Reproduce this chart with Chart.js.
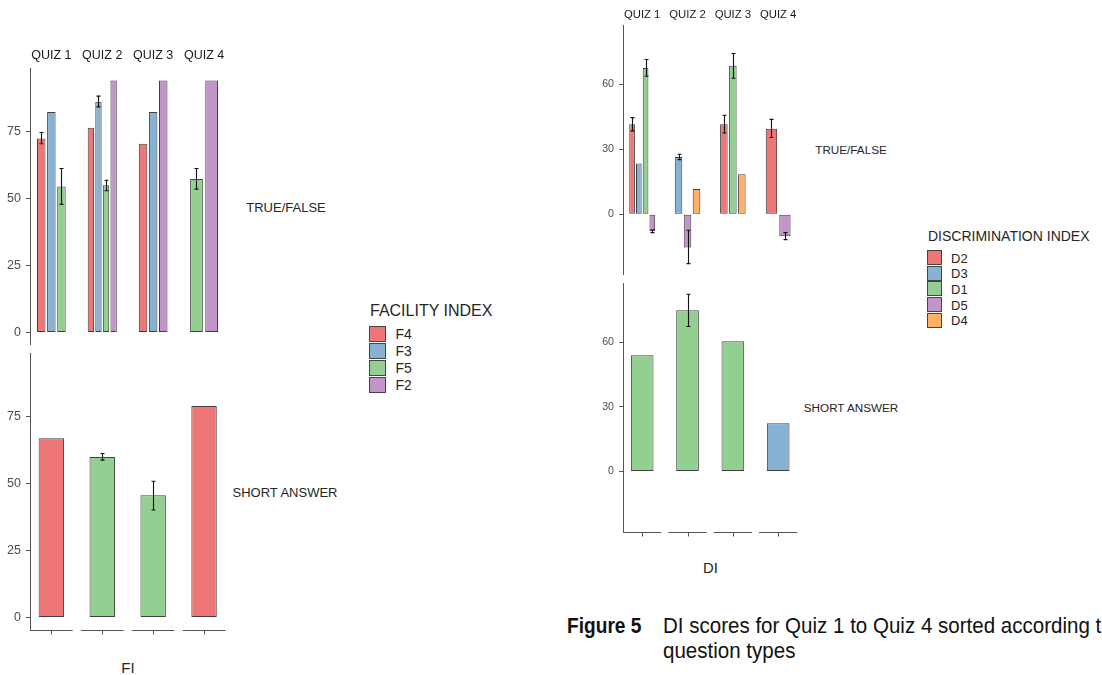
<!DOCTYPE html>
<html>
<head>
<meta charset="utf-8">
<script src="https://cdn.jsdelivr.net/npm/chart.js@4/dist/chart.umd.min.js"></script>
<style>
  html, body { margin: 0; padding: 0; background: #fff; }
  body { width: 1102px; height: 675px; overflow: hidden; position: relative;
         font-family: 'Liberation Sans', Arial, sans-serif; }
  canvas { position: absolute; }
  .txt { position: absolute; white-space: nowrap; line-height: 1; color: #262626; }
  .key { position: absolute; box-sizing: border-box; border: 1px solid #454545; }
</style>
</head>
<body>
<script>
const FONT = "'Liberation Sans', Arial, sans-serif";

// ---- shared categories ----
const quizzes = ['QUIZ 1', 'QUIZ 2', 'QUIZ 3', 'QUIZ 4'];
const quizPos = [1, 2, 3, 4];

// ---- facility index (FI) ----
const fiSeries = ['F4', 'F3', 'F5', 'F2'];
const fiColors = ['#EF7677', '#87B2D4', '#94CF92', '#C195C8'];
const fiTicks = [0, 25, 50, 75];

// TRUE/FALSE questions, one row per series, one column per quiz
const fiTrueFalse = [
  [72.4, 76.4, 70.4, null],
  [82.3, 86.1, 82.3, null],
  [54.5, 54.9, null, 57.3],
  [null, 94.0, 94.0, 94.0]
];
const fiTrueFalseLow = [
  [70.4, null, null, null],
  [null, 84.2, null, null],
  [47.8, 52.9, null, 53.5],
  [null, null, null, null]
];
const fiTrueFalseHigh = [
  [74.6, null, null, null],
  [null, 88.2, null, null],
  [61.2, 56.8, null, 61.2],
  [null, null, null, null]
];

// SHORT ANSWER questions
const fiShortAnswer = [
  [66.9, null, null, 78.9],
  [null, null, null, null],
  [null, 59.9, 45.6, null],
  [null, null, null, null]
];
const fiShortAnswerLow = [
  [null, null, null, null],
  [null, null, null, null],
  [null, 58.7, 40.1, null],
  [null, null, null, null]
];
const fiShortAnswerHigh = [
  [null, null, null, null],
  [null, null, null, null],
  [null, 61.2, 50.8, null],
  [null, null, null, null]
];

// ---- discrimination index (DI) ----
const diSeries = ['D2', 'D3', 'D1', 'D5', 'D4'];
const diColors = ['#EF7677', '#87B2D4', '#94CF92', '#C195C8', '#FFB266'];
const diTicks = [0, 30, 60];

const diTrueFalse = [
  [41.5, null, 41.5, 39.5],
  [23.4, 26.4, null, null],
  [67.5, null, 68.5, null],
  [-7.8, -15.4, null, -10.2],
  [null, 11.7, 18.5, null]
];
const diTrueFalseLow = [
  [38.5, null, 37.5, 35.4],
  [null, 25.2, null, null],
  [63.7, null, 62.8, null],
  [-8.5, -22.8, null, -11.7],
  [null, null, null, null]
];
const diTrueFalseHigh = [
  [44.6, null, 45.7, 43.8],
  [null, 27.7, null, null],
  [71.4, null, 74.2, null],
  [-7.2, -7.4, null, -8.5],
  [null, null, null, null]
];

const diShortAnswer = [
  [null, null, null, null],
  [null, null, null, 22.3],
  [53.9, 74.7, 60.4, null],
  [null, null, null, null],
  [null, null, null, null]
];
const diShortAnswerLow = [
  [null, null, null, null],
  [null, null, null, null],
  [null, 67.2, null, null],
  [null, null, null, null],
  [null, null, null, null]
];
const diShortAnswerHigh = [
  [null, null, null, null],
  [null, null, null, null],
  [null, 82.1, null, null],
  [null, null, null, null],
  [null, null, null, null]
];

// ---- panel geometry (pixels) ----
const fiFrame = { left: 0, axisW: 30, areaW: 196, unitPx: 50.9, halfPx: 21.35,
  rows: [{ top: 68, h: 277 }, { top: 353, h: 277 }],
  stripPad: 28, stripGap: 12, stripSize: 12.5, tickSize: 12.5 };
const diFrame = { left: 593, axisW: 30, areaW: 175, unitPx: 45.33, halfPx: 19.2,
  rows: [{ top: 25, h: 250 }, { top: 283, h: 249 }],
  stripPad: 25, stripGap: 10.5, stripSize: 11.3, tickSize: 10.6 };

// error bars drawn on top of the bars through the value scale
const errorBars = {
  id: 'errorBars',
  afterDatasetsDraw(chart) {
    const { ctx } = chart;
    const ys = chart.scales.y;
    ctx.save();
    ctx.strokeStyle = '#111';
    ctx.lineWidth = 1.1;
    chart.data.datasets.forEach((ds, i) => {
      const meta = chart.getDatasetMeta(i);
      meta.data.forEach((bar, j) => {
        const lo = ds.errLow[j], hi = ds.errHigh[j];
        if (lo == null || hi == null) return;
        const x = Math.round(bar.x) + 0.5;
        const y1 = ys.getPixelForValue(lo), y2 = ys.getPixelForValue(hi);
        ctx.beginPath();
        ctx.moveTo(x, y1); ctx.lineTo(x, y2);
        ctx.moveTo(x - 2, y1); ctx.lineTo(x + 2, y1);
        ctx.moveTo(x - 2, y2); ctx.lineTo(x + 2, y2);
        ctx.stroke();
      });
    });
    ctx.restore();
  }
};

// quiz strip labels above the top row
const quizStrips = {
  id: 'quizStrips',
  afterDraw(chart, args, opts) {
    if (!opts.show) return;
    const { ctx, chartArea } = chart;
    const xs = chart.scales.x;
    ctx.save();
    ctx.fillStyle = '#1a1a1a';
    ctx.font = opts.size + 'px ' + FONT;
    ctx.textAlign = 'center';
    ctx.textBaseline = 'middle';
    quizzes.forEach((q, i) => ctx.fillText(q, xs.getPixelForValue(quizPos[i]), chartArea.top - opts.gap));
    ctx.restore();
  }
};

// one axis segment with a centre tick under each quiz column of the bottom row
const facetAxis = {
  id: 'facetAxis',
  afterDraw(chart, args, opts) {
    if (!opts.show) return;
    const { ctx, chartArea } = chart;
    const xs = chart.scales.x;
    const yLine = Math.round(chartArea.bottom) + 0.5;
    ctx.save();
    ctx.strokeStyle = '#555';
    ctx.lineWidth = 1;
    quizPos.forEach(v => {
      const a = xs.getPixelForValue(v - opts.half);
      const b = xs.getPixelForValue(v + opts.half);
      const c = Math.round(xs.getPixelForValue(v)) + 0.5;
      ctx.beginPath();
      ctx.moveTo(a, yLine); ctx.lineTo(b, yLine);
      ctx.moveTo(c, yLine); ctx.lineTo(c, yLine + 4);
      ctx.stroke();
    });
    ctx.restore();
  }
};

function valueRange(groups) {
  let lo = 0, hi = 0;
  groups.forEach(g => g.forEach(row => row.forEach(v => {
    if (v == null) return;
    lo = Math.min(lo, v); hi = Math.max(hi, v);
  })));
  const pad = (hi - lo) * 0.05;
  return { min: lo - pad, max: hi + pad };
}

function drawRow(frame, rowIdx, series, colors, ticks, vals, low, high, yr) {
  const isTop = rowIdx === 0;
  const row = frame.rows[rowIdx];
  const padTop = isTop ? frame.stripPad : 0;
  const padBottom = isTop ? 0 : 8;
  const cv = document.createElement('canvas');
  cv.width = frame.axisW + frame.areaW;
  cv.height = row.h + padTop + padBottom;
  cv.style.left = frame.left + 'px';
  cv.style.top = (row.top - padTop) + 'px';
  document.body.appendChild(cv);

  const half = frame.halfPx / frame.unitPx;
  const xMin = 1 - half;
  const xMax = xMin + frame.areaW / frame.unitPx;

  new Chart(cv, {
    type: 'bar',
    data: {
      datasets: series.map((name, s) => ({
        label: name,
        data: quizPos.map((x, q) => ({ x, y: vals[s][q] })),
        errLow: low[s],
        errHigh: high[s],
        backgroundColor: colors[s],
        borderColor: '#404040',
        borderWidth: 1,
        borderSkipped: false,
        inflateAmount: 0,
        categoryPercentage: 0.595,
        barPercentage: 0.84,
        skipNull: true
      }))
    },
    options: {
      responsive: false,
      animation: false,
      events: [],
      layout: { padding: { top: padTop, bottom: padBottom, left: 0, right: 0 } },
      plugins: {
        legend: { display: false },
        tooltip: { enabled: false },
        quizStrips: { show: isTop, size: frame.stripSize, gap: frame.stripGap },
        facetAxis: { show: !isTop, half }
      },
      scales: {
        x: {
          type: 'linear', display: false, offset: false, min: xMin, max: xMax,
          afterBuildTicks: sc => { sc.ticks = quizPos.map(v => ({ value: v })); }
        },
        y: {
          min: yr.min, max: yr.max,
          afterBuildTicks: sc => { sc.ticks = ticks.map(v => ({ value: v })); },
          afterFit: sc => { sc.width = frame.axisW; sc.paddingTop = 0; sc.paddingBottom = 0; },
          border: { display: true, color: '#555', width: 1 },
          grid: { display: true, drawOnChartArea: false, drawTicks: true, tickLength: 4, color: '#555', lineWidth: 1 },
          ticks: { padding: 5, color: '#4d4d4d', font: { family: FONT, size: frame.tickSize } }
        }
      }
    },
    plugins: [errorBars, quizStrips, facetAxis]
  });
}

function text(str, x, y, size, opt) {
  opt = opt || {};
  const d = document.createElement('div');
  d.className = 'txt';
  d.textContent = str;
  d.style.left = x + 'px';
  d.style.top = y + 'px';
  d.style.fontSize = size + 'px';
  if (opt.bold) d.style.fontWeight = 'bold';
  if (opt.color) d.style.color = opt.color;
  const sx = opt.scaleX ? ' scaleX(' + opt.scaleX + ')' : '';
  d.style.transformOrigin = 'left center';
  d.style.transform = (opt.center ? 'translate(-50%, -50%)' : 'translateY(-50%)') + sx;
  document.body.appendChild(d);
}

function legend(title, series, colors, x, titleY, titleSize, keyTop, keyPitch, keySize, labelX, labelSize) {
  text(title, x, titleY, titleSize);
  series.forEach((name, i) => {
    const k = document.createElement('div');
    k.className = 'key';
    k.style.left = (x - 1) + 'px';
    k.style.top = (keyTop + i * keyPitch) + 'px';
    k.style.width = keySize + 'px';
    k.style.height = keySize + 'px';
    k.style.background = colors[i];
    document.body.appendChild(k);
    text(name, labelX, keyTop + i * keyPitch + keySize / 2, labelSize);
  });
}

// FI figure
const fiRange = valueRange([fiTrueFalse, fiTrueFalseLow, fiTrueFalseHigh, fiShortAnswer, fiShortAnswerLow, fiShortAnswerHigh]);
drawRow(fiFrame, 0, fiSeries, fiColors, fiTicks, fiTrueFalse, fiTrueFalseLow, fiTrueFalseHigh, fiRange);
drawRow(fiFrame, 1, fiSeries, fiColors, fiTicks, fiShortAnswer, fiShortAnswerLow, fiShortAnswerHigh, fiRange);
text('TRUE/FALSE', 286, 207, 13, { center: true });
text('SHORT ANSWER', 285, 492, 13, { center: true });
text('FI', 128, 667, 15, { center: true });
legend('FACILITY INDEX', fiSeries, fiColors, 370, 311, 16, 325.5, 17, 16.5, 395.5, 14);

// DI figure
const diRange = valueRange([diTrueFalse, diTrueFalseLow, diTrueFalseHigh, diShortAnswer, diShortAnswerLow, diShortAnswerHigh]);
drawRow(diFrame, 0, diSeries, diColors, diTicks, diTrueFalse, diTrueFalseLow, diTrueFalseHigh, diRange);
drawRow(diFrame, 1, diSeries, diColors, diTicks, diShortAnswer, diShortAnswerLow, diShortAnswerHigh, diRange);
text('TRUE/FALSE', 851, 150, 11.7, { center: true });
text('SHORT ANSWER', 851, 407.5, 11.7, { center: true });
text('DI', 710.5, 568, 14.8, { center: true });
legend('DISCRIMINATION INDEX', diSeries, diColors, 928, 236, 14, 250, 15.7, 15, 951, 13);

// caption
text('Figure 5', 567, 627, 21.5, { bold: true, color: '#111', scaleX: 0.89 });
text('DI scores for Quiz 1 to Quiz 4 sorted according to', 663, 627, 21.5, { color: '#111', scaleX: 0.955 });
text('question types', 663, 652, 21.5, { color: '#111', scaleX: 0.955 });
</script>
</body>
</html>
